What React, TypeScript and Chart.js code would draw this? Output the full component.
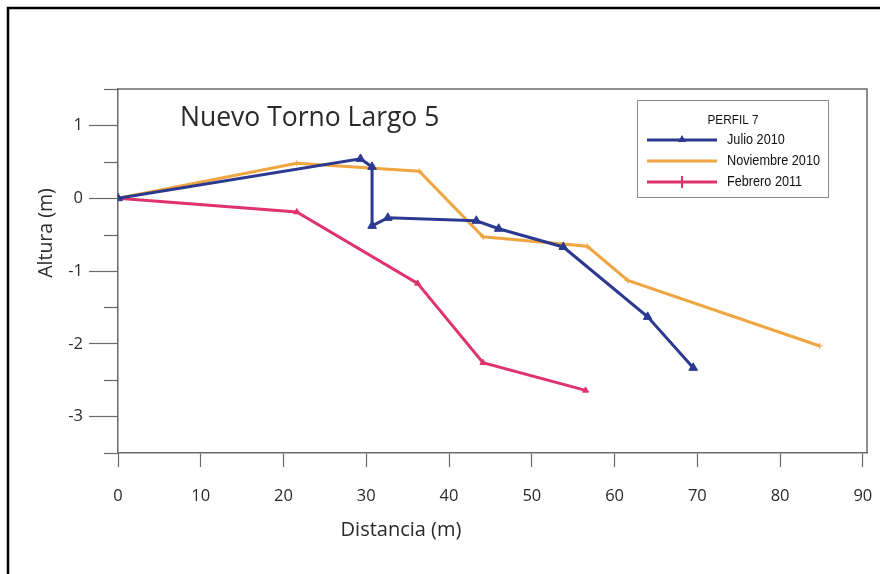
import React, { useEffect, useRef } from 'react';
import { Chart, registerables } from 'chart.js';
Chart.register(...registerables);

const chartTitle = 'Nuevo Torno Largo 5';
const legendTitle = 'PERFIL 7';
const xTitle = 'Distancia (m)';
const yTitle = 'Altura (m)';

const seriesNames = ['Julio 2010', 'Noviembre 2010', 'Febrero 2011'];
const seriesColors = ['#2b3990', '#f0a640', '#e0336b'];

const julioX = [0, 29.3, 30.7, 30.7, 32.6, 43.3, 46.0, 53.8, 64.0, 69.5];
const julioY = [0, 0.54, 0.43, -0.38, -0.27, -0.31, -0.42, -0.67, -1.63, -2.33];
const novX = [0, 21.6, 36.4, 44.1, 56.7, 61.6, 84.8];
const novY = [0, 0.48, 0.37, -0.53, -0.66, -1.13, -2.03];
const febX = [0, 21.6, 36.2, 44.1, 56.5];
const febY = [0, -0.19, -1.17, -2.26, -2.64];

const xMin = 0;
const xMax = 90.5;
const xStep = 10;
const yMin = -3.5;
const yMax = 1.5;
const yStep = 0.5;

const toPts = (xs: number[], ys: number[]) => xs.map((x, i) => ({ x, y: ys[i] }));

const AXIS = '#6a6a6a';
const TEXT = '#2a2a2a';

const decorPlugin = {
  id: 'decor',
  afterDraw(chart: any) {
    const { ctx, chartArea } = chart;
    const ys = chart.scales.y;
    ctx.save();
    // outer border
    ctx.strokeStyle = '#000';
    ctx.lineWidth = 2.5;
    ctx.beginPath();
    ctx.moveTo(8, 574);
    ctx.lineTo(8, 8);
    ctx.lineTo(880, 8);
    ctx.stroke();

    // frame top & right
    ctx.strokeStyle = AXIS;
    ctx.lineWidth = 1.5;
    ctx.beginPath();
    ctx.moveTo(chartArea.left, chartArea.top);
    ctx.lineTo(chartArea.right, chartArea.top);
    ctx.lineTo(chartArea.right, chartArea.bottom);
    ctx.stroke();

    // minor y ticks
    ctx.lineWidth = 1.2;
    for (let v = yMin; v <= yMax + 1e-9; v += yStep) {
      if (Math.abs(v - Math.round(v)) < 1e-6) continue;
      const py = Math.round(ys.getPixelForValue(v)) + 0.5;
      ctx.beginPath();
      ctx.moveTo(chartArea.left - 14, py);
      ctx.lineTo(chartArea.left, py);
      ctx.stroke();
    }

    // chart title
    ctx.fillStyle = TEXT;
    ctx.font = '26.5px "Open Sans"';
    ctx.textAlign = 'left';
    ctx.textBaseline = 'middle';
    ctx.fillText(chartTitle, 180, 118);

    // axis titles
    ctx.font = '20px "Open Sans"';
    ctx.textAlign = 'center';
    ctx.fillText(xTitle, 401, 530);
    ctx.save();
    ctx.translate(46, 233);
    ctx.rotate(-Math.PI / 2);
    ctx.font = '19.5px "Open Sans"';
    ctx.fillText(yTitle, 0, 0);
    ctx.restore();

    // legend box
    ctx.strokeStyle = '#8a8a8a';
    ctx.lineWidth = 1;
    ctx.strokeRect(637.5, 100.5, 191, 97);
    const legendFont = '14.5px "Liberation Sans", Arial, sans-serif';
    ctx.font = legendFont;
    const sx = 93 / ctx.measureText(seriesNames[1]).width;
    ctx.fillStyle = '#111';
    ctx.textAlign = 'center';
    ctx.save();
    ctx.translate(733, 120);
    ctx.scale(sx, 1);
    ctx.font = '13.5px "Liberation Sans", Arial, sans-serif';
    ctx.fillText(legendTitle, 0, 0);
    ctx.restore();
    const rows = [140, 161, 182];
    ctx.textAlign = 'left';
    ctx.font = legendFont;
    seriesNames.forEach((name, i) => {
      const y = rows[i];
      ctx.strokeStyle = seriesColors[i];
      ctx.lineWidth = 3;
      ctx.beginPath();
      ctx.moveTo(647, y);
      ctx.lineTo(717, y);
      ctx.stroke();
      ctx.fillStyle = seriesColors[i];
      if (i === 0) {
        ctx.beginPath();
        ctx.moveTo(682, y - 5);
        ctx.lineTo(686, y + 2);
        ctx.lineTo(678, y + 2);
        ctx.closePath();
        ctx.fill();
      } else if (i === 2) {
        ctx.lineWidth = 2;
        ctx.beginPath();
        ctx.moveTo(682, y - 6);
        ctx.lineTo(682, y + 6);
        ctx.stroke();
      }
      ctx.fillStyle = '#111';
      ctx.save();
      ctx.translate(727, y);
      ctx.scale(sx, 1);
      ctx.fillText(name, 0, 0);
      ctx.restore();
    });
    ctx.restore();
  },
};

export default function App() {
  const ref = useRef<HTMLCanvasElement | null>(null);
  useEffect(() => {
    if (!ref.current) return;
    Chart.defaults.font.family = '"Open Sans", sans-serif';
    const chart = new Chart(ref.current, {
      type: 'line',
      data: {
        datasets: [
          {
            label: seriesNames[0],
            data: toPts(julioX, julioY),
            borderColor: seriesColors[0],
            backgroundColor: seriesColors[0],
            borderWidth: 3,
            pointStyle: 'triangle',
            pointRadius: 5,
            pointBorderWidth: 1,
            tension: 0,
          },
          {
            label: seriesNames[1],
            data: toPts(novX, novY),
            borderColor: seriesColors[1],
            backgroundColor: seriesColors[1],
            borderWidth: 3,
            pointStyle: 'cross',
            pointRadius: 3,
            pointBorderWidth: 1,
            tension: 0,
          },
          {
            label: seriesNames[2],
            data: toPts(febX, febY),
            borderColor: seriesColors[2],
            backgroundColor: seriesColors[2],
            borderWidth: 3,
            pointStyle: 'triangle',
            pointRadius: 3.5,
            pointBorderWidth: 1,
            tension: 0,
          },
        ],
      },
      options: {
        animation: false,
        responsive: false,
        layout: { padding: { left: 0, top: 89, right: 13, bottom: 0 } },
        plugins: { legend: { display: false }, tooltip: { enabled: false } },
        scales: {
          x: {
            type: 'linear',
            min: xMin,
            max: xMax,
            afterFit: (s: any) => {
              s.height = 121;
              s.paddingLeft = 0;
              s.paddingRight = 0;
            },
            grid: { drawOnChartArea: false, tickLength: 14, color: AXIS, tickColor: AXIS, tickWidth: 1.2 },
            border: { color: AXIS, width: 1.5 },
            ticks: {
              stepSize: xStep,
              includeBounds: false,
              autoSkip: false,
              maxRotation: 0,
              padding: 19,
              color: TEXT,
              font: { size: 16.5 },
            },
          },
          y: {
            type: 'linear',
            min: yMin,
            max: yMax,
            afterFit: (s: any) => {
              s.width = 118;
              s.paddingTop = 0;
              s.paddingBottom = 0;
            },
            grid: {
              drawOnChartArea: false,
              tickLength: 29,
              tickWidth: 1.2,
              tickColor: (c: any) => (Number.isInteger(c.tick?.value) ? AXIS : 'rgba(0,0,0,0)'),
            },
            border: { color: AXIS, width: 1.5 },
            ticks: {
              stepSize: yStep,
              autoSkip: false,
              padding: 6,
              color: TEXT,
              font: { size: 16.5 },
              callback: (v: any) => (Number.isInteger(v) ? String(v) : ''),
            },
          },
        },
      },
      plugins: [decorPlugin],
    });
    return () => chart.destroy();
  }, []);
  return (
    <div style={{ position: 'absolute', left: 0, top: 0, width: 880, height: 574, background: '#fff' }}>
      <canvas ref={ref} width={880} height={574} style={{ display: 'block' }} />
    </div>
  );
}
